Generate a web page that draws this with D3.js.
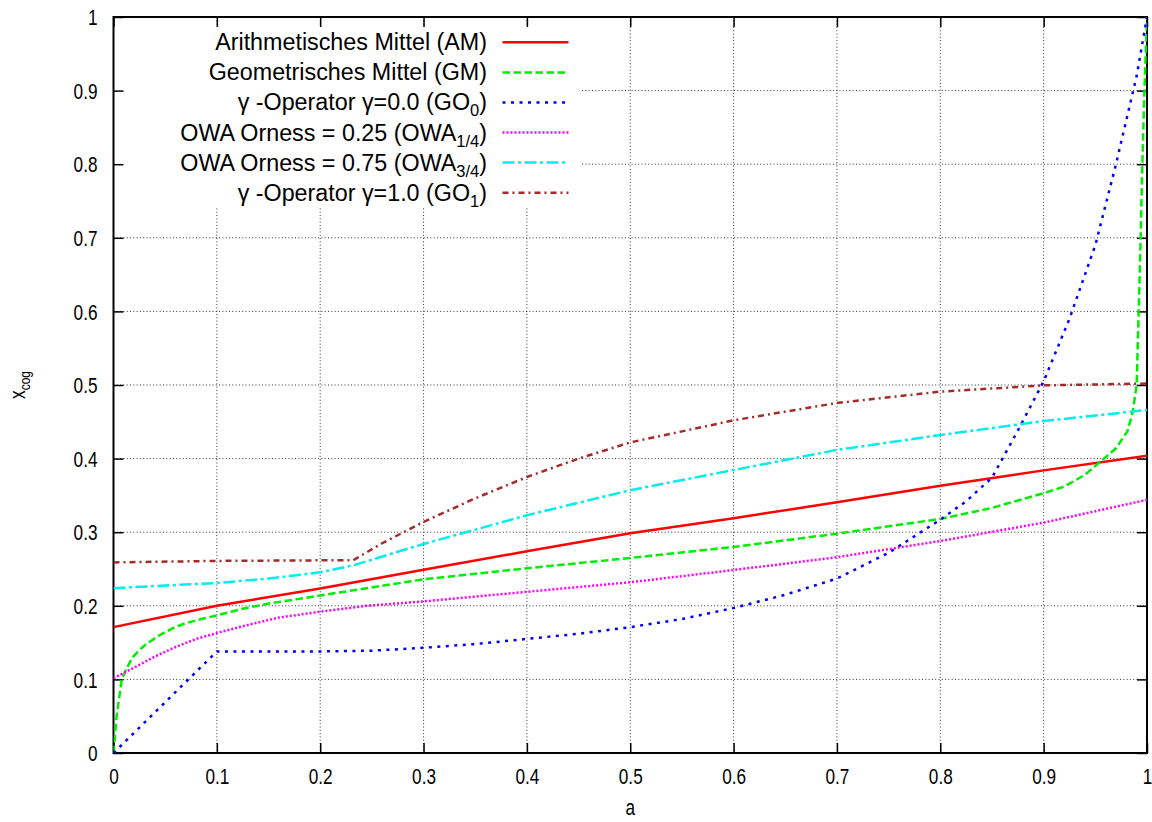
<!DOCTYPE html>
<html>
<head>
<meta charset="utf-8">
<script src="https://cdn.jsdelivr.net/npm/d3@7"></script>
<style>
	body { margin: 0; background: #fff; }
	text { font-family: "Liberation Sans", Arial, sans-serif; fill: #000; }
</style>
</head>
<body>
<script>
// Global variables
var width = 1152,
	height = 822,
	svg,
	x,
	y;

// tick values
var xTicks = [0, 0.1, 0.2, 0.3, 0.4, 0.5, 0.6, 0.7, 0.8, 0.9, 1];
var yTicks = [0, 0.1, 0.2, 0.3, 0.4, 0.5, 0.6, 0.7, 0.8, 0.9, 1];

// series data, [a, x_cog]
var amData = [[0, 0.171], [0.1, 0.2], [0.2, 0.2235], [0.3, 0.249], [0.4, 0.274], [0.5, 0.2985],
	[0.6, 0.319], [0.7, 0.3406], [0.8, 0.363], [0.9, 0.384], [1, 0.404]];

var gmData = [[0, 0], [0.003, 0.05], [0.008, 0.1], [0.012, 0.113], [0.018, 0.129], [0.025, 0.14],
	[0.031, 0.147], [0.04, 0.156], [0.047, 0.162], [0.058, 0.17], [0.069, 0.176], [0.085, 0.182],
	[0.1, 0.187], [0.125, 0.196], [0.15, 0.203], [0.2, 0.214], [0.3, 0.236],
	[0.4, 0.251], [0.5, 0.265], [0.6, 0.28], [0.7, 0.298], [0.8, 0.318], [0.85, 0.333],
	[0.9, 0.353], [0.92, 0.362], [0.94, 0.378], [0.955, 0.396], [0.97, 0.414], [0.981, 0.437],
	[0.986, 0.462], [0.99, 0.5], [0.9935, 0.68], [0.9955, 0.8], [0.9975, 0.9], [1, 1]];

var go0Data = [[0, 0], [0.1, 0.138], [0.2, 0.138], [0.25, 0.139], [0.3, 0.143], [0.35, 0.148],
	[0.4, 0.155], [0.45, 0.162], [0.5, 0.171], [0.55, 0.182], [0.6, 0.197], [0.65, 0.215],
	[0.7, 0.237], [0.75, 0.272], [0.8, 0.317], [0.825, 0.342], [0.85, 0.374], [0.875, 0.438],
	[0.9, 0.505], [0.925, 0.59], [0.95, 0.69], [0.97, 0.8], [0.99, 0.92], [1, 1]];

var owa14Data = [[0, 0.1017], [0.02, 0.116], [0.04, 0.131], [0.06, 0.144], [0.08, 0.155],
	[0.1, 0.163], [0.13, 0.174], [0.16, 0.184], [0.2, 0.192], [0.245, 0.2], [0.3, 0.206],
	[0.4, 0.219], [0.5, 0.232], [0.6, 0.2486], [0.7, 0.266], [0.8, 0.288], [0.9, 0.313], [1, 0.344]];

var owa34Data = [[0, 0.224], [0.1, 0.231], [0.15, 0.237], [0.2, 0.2455], [0.232, 0.255], [0.3, 0.284],
	[0.4, 0.323], [0.5, 0.357], [0.6, 0.3845], [0.7, 0.4118], [0.8, 0.432], [0.9, 0.451], [1, 0.466]];

var go1Data = [[0, 0.259], [0.1, 0.261], [0.232, 0.262], [0.26, 0.285], [0.3, 0.314], [0.35, 0.346],
	[0.4, 0.375], [0.45, 0.4], [0.5, 0.422], [0.6, 0.452], [0.7, 0.4756], [0.8, 0.491],
	[0.9, 0.4995], [1, 0.502]];

// legend labels: main text + subscript
var labels = [
	["Arithmetisches Mittel (AM)", ""],
	["Geometrisches Mittel (GM)", ""],
	["\u03b3 -Operator \u03b3=0.0 (GO", "0"],
	["OWA Orness = 0.25 (OWA", "1/4"],
	["OWA Orness = 0.75 (OWA", "3/4"],
	["\u03b3 -Operator \u03b3=1.0 (GO", "1"]
];

// line styles
var styles = [
	{ color: "#ff0000", dash: null },
	{ color: "#00ee00", dash: "7.5,3.5" },
	{ color: "#0000ff", dash: "3,5.5" },
	{ color: "#ff00ff", dash: "2,2" },
	{ color: "#00eeee", dash: "12,3.5,3,3.5" },
	{ color: "#a52a2a", dash: "6,4,2,4" }
];

var margin = { left: 113.5, right: 1147, top: 17, bottom: 753 };
var squeeze = 0.8; // tick labels are narrow in the original

function init() {
	svg = d3.select("body")
		.append("svg")
		.attr("width", width)
		.attr("height", height);

	x = d3.scaleLinear().domain([0, 1]).range([margin.left, margin.right]);
	y = d3.scaleLinear().domain([0, 1]).range([margin.bottom, margin.top]);

	drawGrid();
	drawLegendBox();
	drawAxes();
	drawLines();
	drawLegend();
}

function drawGrid() {
	var grid = svg.append("g").attr("class", "grid");

	grid.selectAll(".vgrid")
		.data(xTicks.slice(1, -1))
		.enter().append("line")
		.attr("x1", function(d) { return x(d); })
		.attr("x2", function(d) { return x(d); })
		.attr("y1", margin.top)
		.attr("y2", margin.bottom)
		.attr("stroke", "#333")
		.attr("stroke-width", 1)
		.attr("stroke-dasharray", "1,2.3");

	grid.selectAll(".hgrid")
		.data(yTicks.slice(1, -1))
		.enter().append("line")
		.attr("x1", margin.left)
		.attr("x2", margin.right)
		.attr("y1", function(d) { return y(d); })
		.attr("y2", function(d) { return y(d); })
		.attr("stroke", "#333")
		.attr("stroke-width", 1)
		.attr("stroke-dasharray", "1,2.3");
}

function drawLegendBox() {
	// key area hides the grid behind it
	svg.append("rect")
		.attr("x", margin.left + 1)
		.attr("y", 27)
		.attr("width", 580 - margin.left)
		.attr("height", 181)
		.attr("fill", "#fff");
}

function drawAxes() {
	var axes = svg.append("g").attr("class", "axes");

	// bottom / top
	var bottom = axes.append("g")
		.attr("transform", "translate(0," + margin.bottom + ")")
		.call(d3.axisBottom(x).tickValues(xTicks).tickSizeInner(-10).tickSizeOuter(0).tickPadding(14)
			.tickFormat(d3.format("~g")));

	axes.append("g")
		.attr("transform", "translate(0," + margin.top + ")")
		.call(d3.axisTop(x).tickValues(xTicks).tickSizeInner(-10).tickSizeOuter(0).tickFormat(""));

	// left / right
	var left = axes.append("g")
		.attr("transform", "translate(" + margin.left + ",0)")
		.call(d3.axisLeft(y).tickValues(yTicks).tickSizeInner(-10).tickSizeOuter(0).tickPadding(15)
			.tickFormat(d3.format("~g")));

	axes.append("g")
		.attr("transform", "translate(" + margin.right + ",0)")
		.call(d3.axisRight(y).tickValues(yTicks).tickSizeInner(-10).tickSizeOuter(0).tickFormat(""));

	axes.selectAll(".domain").remove();
	axes.selectAll(".tick line")
		.attr("stroke", "#000")
		.attr("stroke-width", 1.5);
	axes.selectAll(".tick text")
		.attr("font-family", "Liberation Sans, Arial, sans-serif")
		.attr("font-size", 21.5)
		.attr("fill", "#000");

	bottom.selectAll(".tick text")
		.attr("y", 0)
		.attr("dy", null)
		.attr("transform", "translate(0,31) scale(" + squeeze + ",1)");

	left.selectAll(".tick text")
		.attr("x", 0)
		.attr("dy", "0.36em")
		.attr("transform", "translate(-16,0) scale(" + squeeze + ",1)");

	// border
	svg.append("rect")
		.attr("x", margin.left)
		.attr("y", margin.top)
		.attr("width", margin.right - margin.left)
		.attr("height", margin.bottom - margin.top)
		.attr("fill", "none")
		.attr("stroke", "#000")
		.attr("stroke-width", 2);

	// axis titles
	svg.append("text")
		.attr("transform", "translate(" + ((margin.left + margin.right) / 2) + ",815) scale(" + squeeze + ",1)")
		.attr("text-anchor", "middle")
		.attr("font-size", 21.5)
		.text("a");

	var yl = svg.append("text")
		.attr("transform", "translate(25," + y(0.5) + ") rotate(-90) scale(" + squeeze + ",1)")
		.attr("text-anchor", "middle")
		.attr("font-size", 21.5);
	yl.append("tspan").text("x");
	yl.append("tspan")
		.attr("font-size", 15)
		.attr("dy", 5)
		.text("cog");
}

function drawLines() {
	var line = d3.line()
		.x(function(d) { return x(d[0]); })
		.y(function(d) { return y(d[1]); });

	svg.append("clipPath")
		.attr("id", "plotclip")
		.append("rect")
		.attr("x", margin.left)
		.attr("y", margin.top)
		.attr("width", margin.right - margin.left)
		.attr("height", margin.bottom - margin.top);

	var series = [amData, gmData, go0Data, owa14Data, owa34Data, go1Data];

	svg.append("g")
		.attr("clip-path", "url(#plotclip)")
		.selectAll("path")
		.data(series)
		.enter().append("path")
		.attr("d", line)
		.attr("fill", "none")
		.attr("stroke", function(d, i) { return styles[i].color; })
		.attr("stroke-width", 2.5)
		.attr("stroke-dasharray", function(d, i) { return styles[i].dash; });
}

function drawLegend() {
	var rowY = d3.scaleLinear().domain([0, 5]).range([42.3, 192.7]);

	var rows = svg.append("g")
		.attr("class", "legend")
		.selectAll("g")
		.data(labels)
		.enter().append("g")
		.attr("transform", function(d, i) { return "translate(0," + rowY(i) + ")"; });

	rows.append("line")
		.attr("x1", 502.5)
		.attr("x2", 568.5)
		.attr("y1", 0)
		.attr("y2", 0)
		.attr("stroke", function(d, i) { return styles[i].color; })
		.attr("stroke-width", 2.5)
		.attr("stroke-dasharray", function(d, i) { return styles[i].dash; });

	var txt = rows.append("text")
		.attr("x", 487)
		.attr("y", 8)
		.attr("text-anchor", "end")
		.attr("font-size", 23.3);

	txt.append("tspan").text(function(d) { return d[0]; });
	txt.filter(function(d) { return d[1] !== ""; })
		.append("tspan")
		.attr("font-size", 16.5)
		.attr("dy", 6)
		.text(function(d) { return d[1]; });
	txt.filter(function(d) { return d[1] !== ""; })
		.append("tspan")
		.attr("dy", -6)
		.text(")");
}

window.onload = init;
</script>
</body>
</html>
